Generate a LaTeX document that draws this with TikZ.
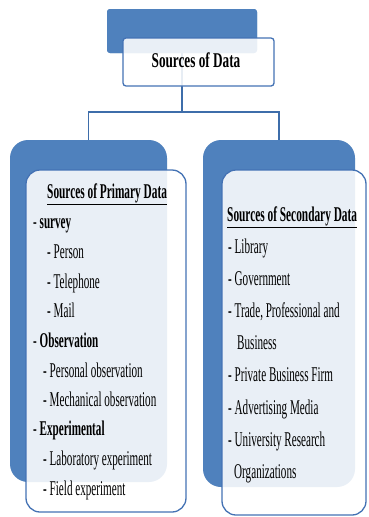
\documentclass[tikz,border=0pt]{standalone}
\usepackage{fontspec}
\setmainfont{Liberation Serif}[FakeStretch=0.53]
\newfontfamily\topfont{Liberation Serif}[FakeStretch=0.63]
\newfontfamily\headfont{Liberation Serif}[FakeStretch=0.54]
\definecolor{tabblue}{HTML}{4F81BD}
\definecolor{edgeblue}{HTML}{4472B4}
\definecolor{linkblue}{HTML}{3E6DAA}
\begin{document}
\begin{tikzpicture}[x=1pt,y=-1pt,
  tab/.style={fill=tabblue,draw=none,rounded corners=#1,inner sep=0pt},
  card/.style={fill=white,fill opacity=0.88,draw=edgeblue,draw opacity=1,line width=1.3pt,rounded corners=#1,inner sep=0pt},
  link/.style={draw=linkblue,line width=1.4pt},
  item/.style={anchor=base west,inner sep=0pt,font=\fontsize{21}{23}\selectfont},
  head/.style={anchor=base west,inner sep=0pt,font=\fontsize{21}{23}\selectfont\headfont\bfseries}]
\useasboundingbox (0,0) rectangle (368,517);
\fill[white] (0,0) rectangle (368,517);
% blue tabs
\node[tab=3pt,minimum width=150pt,minimum height=44pt] (topblue) at (182,31) {};
\node[tab=18pt,minimum width=157pt,minimum height=342pt] (leftblue) at (88.5,311) {};
\node[tab=18pt,minimum width=152pt,minimum height=347pt] (rightblue) at (279,313.5) {};
% connectors
\coordinate (fork) at (182,112);
\draw[link] (topblue.center) -- (fork);
\draw[link] (fork) -| (leftblue.north);
\draw[link] (fork) -| (rightblue.north);
% redraw top tab over the connector start
\node[tab=3pt,minimum width=150pt,minimum height=44pt] (topblue2) at (182,31) {};
% white cards
\node[card=3pt,minimum width=151pt,minimum height=48pt] (topwhite) at (198.5,62) {};
\node[card=14pt,minimum width=160pt,minimum height=342pt] (leftwhite) at (106,341) {};
\node[card=14pt,minimum width=144pt,minimum height=345pt] (rightwhite) at (294,342.5) {};
% top title
\node[anchor=base,inner sep=0pt,font=\fontsize{21}{23}\selectfont\topfont\bfseries] (ttl) at (196,67) {Sources of Data};
% left list
\node[head] (lt) at (47,198) {\underline{Sources of Primary Data}};
\node[item] (l1) at (33,228) {- \textbf{survey}};
\node[item] (l2) at (47,258) {- Person};
\node[item] (l3) at (47,288) {- Telephone};
\node[item] (l4) at (47,317) {- Mail};
\node[item] (l5) at (33,347) {- \textbf{Observation}};
\node[item] (l6) at (43,377) {- Personal observation};
\node[item] (l7) at (43,406) {- Mechanical observation};
\node[item] (l8) at (33,435) {- \textbf{Experimental}};
\node[item] (l9) at (43,465) {- Laboratory experiment};
\node[item] (l10) at (43,495) {- Field experiment};
% right list
\node[head] (rt) at (227,221) {\underline{Sources of Secondary Data}};
\node[item] (r1) at (228,253) {- Library};
\node[item] (r2) at (228,285) {- Government};
\node[item] (r3) at (228,317) {- Trade, Professional and};
\node[item] (r4) at (237,349) {Business};
\node[item] (r5) at (228,381) {- Private Business Firm};
\node[item] (r6) at (228,414) {- Advertising Media};
\node[item] (r7) at (228,446) {- University Research};
\node[item] (r8) at (234,478) {Organizations};
\end{tikzpicture}
\end{document}
